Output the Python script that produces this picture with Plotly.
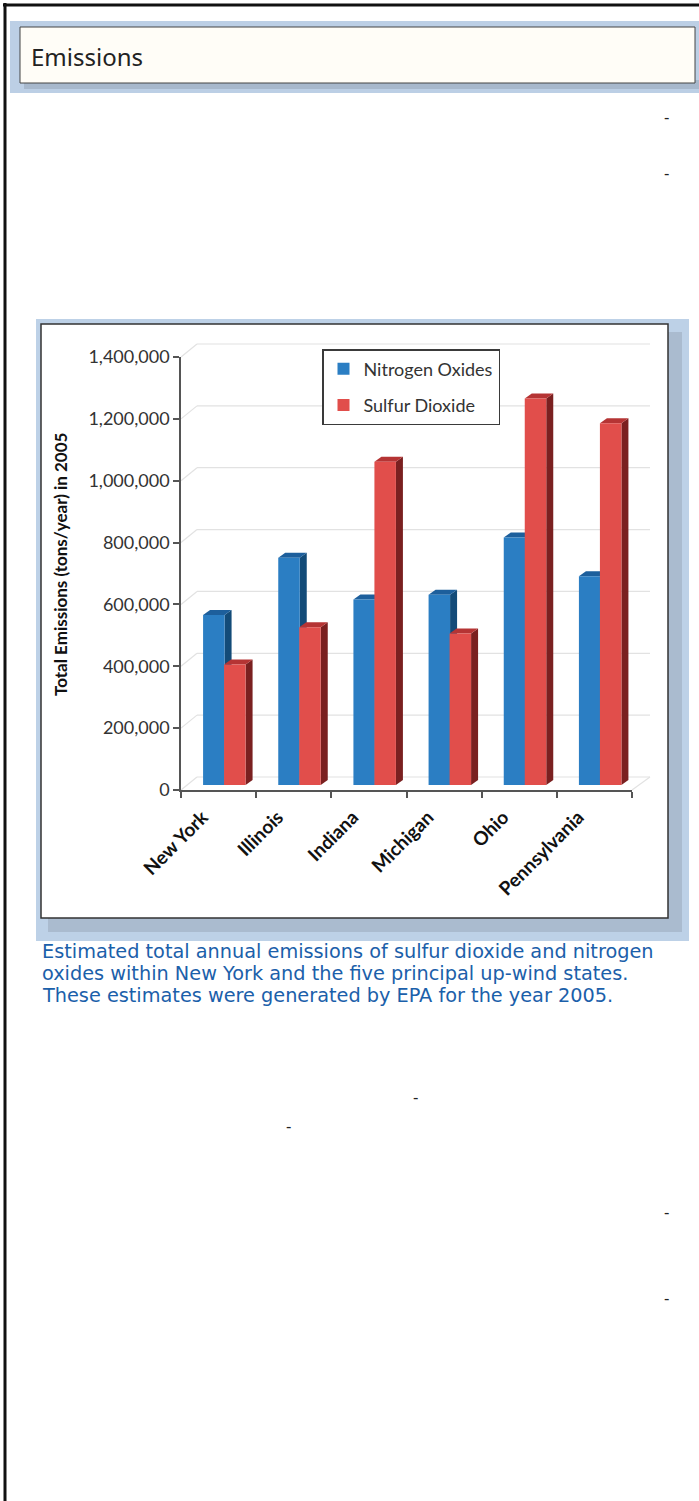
import plotly.graph_objects as go

# ---------------- data ----------------
states = ["New York", "Illinois", "Indiana", "Michigan", "Ohio", "Pennsylvania"]
nitrogen_oxides = [550000, 735000, 600000, 615000, 800000, 675000]
sulfur_dioxide = [390000, 510000, 1045000, 490000, 1250000, 1170000]
series_names = ["Nitrogen Oxides", "Sulfur Dioxide"]
y_tick_values = [0, 200000, 400000, 600000, 800000, 1000000, 1200000, 1400000]
y_title = "Total Emissions (tons/year) in 2005"
header_title = "Emissions"
caption_lines = [
    "Estimated total annual emissions of sulfur dioxide and nitrogen",
    "oxides within New York and the five principal up-wind states.",
    "These estimates were generated by EPA for the year 2005.",
]

# ---------------- page geometry (pixels) ----------------
W, H = 699, 1501
def fx(p):
    return p / W
def fy(p):
    return 1 - p / H

X0, X1 = 181, 632      # front x axis extent
Y0, Y1 = 790, 357      # front y axis: 0 and max
YMAX = 1400000
DX = len(states) / (X1 - X0)     # category units per pixel
DY = YMAX / (Y0 - Y1)            # value units per pixel

def ypx(v):
    return Y0 - v / DY

BAR_W = 21.5 * DX
BASE = 5 * DY
OFFS = [-15.5 * DX, 5.5 * DX]
DEPTH_X, DEPTH_Y = 7 * DX, 5 * DY

front_cols = ["#2b7ec3", "#e14e4b"]
side_cols = ["#134b78", "#7a2020"]
top_cols = ["#1d5f9c", "#b53434"]

fig = go.Figure()

series = [nitrogen_oxides, sulfur_dioxide]
for k, vals in enumerate(series):
    fig.add_trace(go.Bar(
        x=states, y=vals, base=BASE, width=BAR_W, offset=OFFS[k],
        name=series_names[k], legendgroup=series_names[k],
        marker=dict(color=front_cols[k], line=dict(width=0)),
        hoverinfo="skip",
    ))

shapes = []
# page frame
shapes.append(dict(type="line", xref="paper", yref="paper", x0=fx(3), x1=fx(699), y0=fy(5), y1=fy(5),
                   line=dict(color="#111", width=3)))
shapes.append(dict(type="line", xref="paper", yref="paper", x0=fx(5), x1=fx(5), y0=fy(3), y1=fy(1501),
                   line=dict(color="#111", width=3)))
# header band
shapes.append(dict(type="rect", xref="paper", yref="paper", x0=fx(10), x1=fx(699), y0=fy(93), y1=fy(21),
                   fillcolor="#bccfe5", line=dict(width=0), layer="below"))
shapes.append(dict(type="rect", xref="paper", yref="paper", x0=fx(24), x1=fx(699), y0=fy(89), y1=fy(80),
                   fillcolor="#a7b8cc", line=dict(width=0), layer="below"))
shapes.append(dict(type="rect", xref="paper", yref="paper", x0=fx(20), x1=fx(695), y0=fy(83), y1=fy(27),
                   fillcolor="#fffdf7", line=dict(color="#444", width=1), layer="below"))
# chart frame
shapes.append(dict(type="rect", xref="paper", yref="paper", x0=fx(36), x1=fx(689), y0=fy(941), y1=fy(319),
                   fillcolor="#bdd1e7", line=dict(width=0), layer="below"))
shapes.append(dict(type="rect", xref="paper", yref="paper", x0=fx(48), x1=fx(682), y0=fy(932), y1=fy(332),
                   fillcolor="#aabbcf", line=dict(width=0), layer="below"))
shapes.append(dict(type="rect", xref="paper", yref="paper", x0=fx(41), x1=fx(668), y0=fy(918), y1=fy(324),
                   fillcolor="#ffffff", line=dict(color="#333", width=1.5), layer="below"))

# back wall gridlines and left wall diagonals
BACK_X, BACK_Y = 16, 13
for v in y_tick_values:
    yb = ypx(v) - BACK_Y
    shapes.append(dict(type="line", xref="paper", yref="paper", x0=fx(X0 + BACK_X), x1=fx(650),
                       y0=fy(yb), y1=fy(yb), line=dict(color="#e2e2e2", width=1.2), layer="below"))
    shapes.append(dict(type="line", xref="paper", yref="paper", x0=fx(X0), x1=fx(X0 + BACK_X),
                       y0=fy(ypx(v)), y1=fy(yb), line=dict(color="#e2e2e2", width=1.2), layer="below"))
# floor right edge
shapes.append(dict(type="line", xref="paper", yref="paper", x0=fx(X1), x1=fx(650),
                   y0=fy(Y0), y1=fy(Y0 - BACK_Y), line=dict(color="#e2e2e2", width=1.2), layer="below"))

# 3D side faces and caps of bars
for k, vals in enumerate(series):
    for i, v in enumerate(vals):
        xl = i + OFFS[k]
        xr = xl + BAR_W
        b = BASE
        t = BASE + v
        side = (f"M{xr},{b} L{xr},{t} L{xr + DEPTH_X},{t + DEPTH_Y} "
                f"L{xr + DEPTH_X},{b + DEPTH_Y} Z")
        top = (f"M{xl},{t} L{xr},{t} L{xr + DEPTH_X},{t + DEPTH_Y} "
               f"L{xl + DEPTH_X},{t + DEPTH_Y} Z")
        shapes.append(dict(type="path", xref="x", yref="y", path=side,
                           fillcolor=side_cols[k], line=dict(width=0), layer="between"))
        shapes.append(dict(type="path", xref="x", yref="y", path=top,
                           fillcolor=top_cols[k], line=dict(width=0), layer="between"))

annotations = []
annotations.append(dict(text=header_title, xref="paper", yref="paper", x=fx(29), y=fy(57),
                        xanchor="left", yanchor="middle", showarrow=False,
                        font=dict(family="Noto Sans", size=24, color="#222")))
annotations.append(dict(text="<b>" + y_title + "</b>", xref="paper", yref="paper", x=fx(60), y=fy(565),
                        xanchor="center", yanchor="middle", textangle=-90, showarrow=False,
                        font=dict(family="Lato", size=17, color="#111")))
for j, line in enumerate(caption_lines):
    annotations.append(dict(text=line, xref="paper", yref="paper", x=fx(40), y=fy(951 + 22 * j),
                            xanchor="left", yanchor="middle", showarrow=False,
                            font=dict(family="DejaVu Sans", size=19.3, color="#1b60aa")))
for (dx_, dy_) in [(666, 118), (666, 174), (415, 1098), (288, 1127), (666, 1213), (666, 1299)]:
    annotations.append(dict(text="-", xref="paper", yref="paper", x=fx(dx_), y=fy(dy_),
                            xanchor="center", yanchor="middle", showarrow=False,
                            font=dict(family="DejaVu Sans", size=15, color="#222")))

fig.update_layout(
    template="none",
    width=W, height=H,
    margin=dict(l=0, r=0, t=0, b=0, pad=0, autoexpand=False),
    paper_bgcolor="white", plot_bgcolor="rgba(0,0,0,0)",
    barmode="overlay",
    showlegend=True,
    legend=dict(x=fx(322), y=fy(349), xanchor="left", yanchor="top",
                bgcolor="white", bordercolor="#3a3a3a", borderwidth=1.5,
                font=dict(family="Lato", size=18, color="#333"),
                traceorder="grouped", tracegroupgap=10),
    shapes=shapes,
    annotations=annotations,
    xaxis=dict(domain=[fx(X0), fx(X1)], range=[-0.5, len(states) - 0.5], type="category",
               automargin=False,
               showline=True, linecolor="#555", linewidth=1.5,
               ticks="outside", ticklen=6, tickcolor="#555", tickwidth=1.5, tickson="boundaries",
               tickangle=-45, showgrid=False, zeroline=False,
               ticklabelshift=-16, ticklabelstandoff=7,
               tickfont=dict(family="Lato", size=19, color="#111", weight="bold")),
    yaxis=dict(domain=[fy(Y0), fy(Y1)], range=[0, YMAX], tickvals=y_tick_values, tickformat=",",
               automargin=False,
               showline=True, linecolor="#555", linewidth=1.5,
               ticks="outside", ticklen=6, tickcolor="#555", tickwidth=1.5,
               showgrid=False, zeroline=False,
               tickfont=dict(family="Lato", size=18, color="#333")),
)

fig.write_html("out.html")
